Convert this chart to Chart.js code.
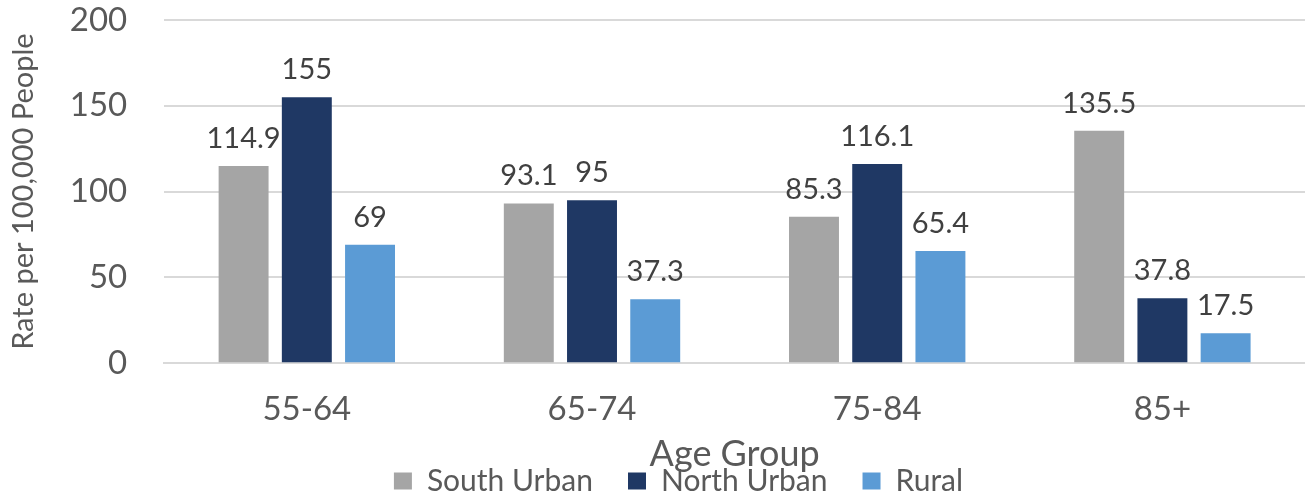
<!DOCTYPE html>
<html>
<head>
<meta charset="utf-8">
<script src="https://cdn.jsdelivr.net/npm/chart.js@4"></script>
<style>
  html, body { margin: 0; padding: 0; background: #fff; }
  #wrap { width: 1305px; height: 499px; }
</style>
</head>
<body>
<div id="wrap"><canvas id="chart"></canvas></div>
<script>
// values
const ageGroups = ['55-64', '65-74', '75-84', '85+'];
const southUrban = [114.9, 93.1, 85.3, 135.5];
const northUrban = [155, 95, 116.1, 37.8];
const rural = [69, 37.3, 65.4, 17.5];
const yTicks = [0, 50, 100, 150, 200];

const fontName = 'Lato, "Open Sans", sans-serif';

// draws the value above each bar
const barLabels = {
    id: 'barLabels',
    afterDatasetsDraw(chart) {
        const ctx = chart.ctx;
        ctx.save();
        ctx.font = '29px ' + fontName;
        ctx.fillStyle = '#404040';
        ctx.textAlign = 'center';
        ctx.textBaseline = 'bottom';
        chart.data.datasets.forEach((ds, i) => {
            chart.getDatasetMeta(i).data.forEach((bar, j) => {
                ctx.fillText(String(ds.data[j]), bar.x, bar.y - 13);
            });
        });
        ctx.restore();
    }
};

// legend sits tight under the axis title and a bit right of centre
const tightLegend = {
    id: 'tightLegend',
    beforeInit(chart) {
        const fit = chart.legend.fit;
        chart.legend.fit = function () {
            fit.call(this);
            this.height -= 7;
            if (this.lineWidths && this.lineWidths.length) this.lineWidths[0] -= 46;
        };
    }
};

new Chart(document.getElementById('chart'), {
    type: 'bar',
    data: {
        labels: ageGroups,
        datasets: [
            { label: 'South Urban', data: southUrban, backgroundColor: '#A5A5A5' },
            { label: 'North Urban', data: northUrban, backgroundColor: '#1F3864' },
            { label: 'Rural', data: rural, backgroundColor: '#5B9BD5' }
        ]
    },
    options: {
        responsive: true,
        maintainAspectRatio: false,
        animation: false,
        categoryPercentage: 0.665,
        barPercentage: 0.79,
        layout: { padding: { top: 2, right: 0, left: 6, bottom: 0 } },
        plugins: {
            tooltip: { enabled: false },
            legend: {
                position: 'bottom',
                labels: {
                    color: '#595959',
                    font: { family: fontName, size: 30 },
                    boxWidth: 18,
                    boxHeight: 17,
                    padding: 35
                }
            }
        },
        scales: {
            x: {
                grid: { display: false },
                border: { color: '#D9D9D9', width: 2 },
                ticks: { color: '#595959', font: { family: fontName, size: 33 }, padding: 18 },
                title: {
                    display: true, text: 'Age Group', color: '#595959',
                    font: { family: fontName, size: 36 }, padding: { top: -14, bottom: -45 }
                }
            },
            y: {
                min: 0, max: 200,
                afterBuildTicks(axis) { axis.ticks = yTicks.map(v => ({ value: v })); },
                // the label gap should not push the plot down
                afterFit(axis) { axis.paddingTop = 20; axis.paddingBottom = 0; },
                grid: { color: '#D9D9D9', lineWidth: 2, drawTicks: false },
                border: { display: false },
                ticks: { color: '#595959', font: { family: fontName, size: 33 }, padding: 37 },
                title: {
                    display: true, text: 'Rate per 100,000 People', color: '#595959',
                    font: { family: fontName, size: 29 }, padding: { top: 0, bottom: -8 }
                }
            }
        }
    },
    plugins: [barLabels, tightLegend]
});
</script>
</body>
</html>
